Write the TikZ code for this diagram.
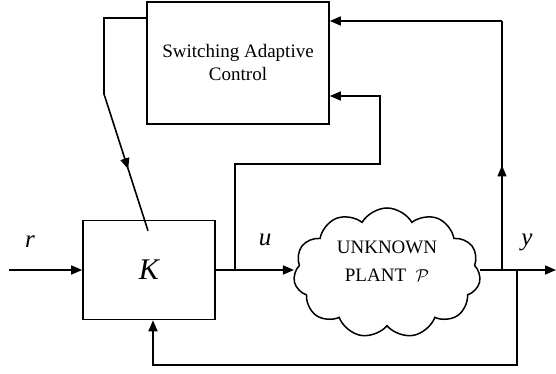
\documentclass[tikz,border=0pt]{standalone}
\usepackage{fontspec}
\setmainfont{Liberation Serif}
\usetikzlibrary{arrows.meta, positioning, shapes.symbols, calc, decorations.markings}
\tikzset{
  block/.style={rectangle, draw, line width=1.6pt, align=center},
  plantcloud/.style={cloud, draw, line width=1.5pt, cloud puffs=11, cloud puff arc=120,
    aspect=1.45, minimum width=187pt, minimum height=130pt, inner sep=0pt},
  wire/.style={line width=1.6pt},
  arrow/.style={wire, -{Triangle[length=11pt, width=9pt]}},
  midarrow/.style={postaction={decorate}, decoration={markings,
    mark=at position #1 with {\arrow{Triangle[length=11pt, width=9pt]}}}},
  sig/.style={font=\fontsize{25}{27}\selectfont\itshape},
}

\begin{document}
\begin{tikzpicture}[x=1pt, y=1pt]
\useasboundingbox (0,0) rectangle (556,374);
% blocks
\node[block, minimum width=182pt, minimum height=122pt, font=\fontsize{19}{23}\selectfont] (sac) at (238,311) {Switching Adaptive\\Control};
\node[block, minimum width=132pt, minimum height=99pt, font=\fontsize{30}{32}\selectfont\itshape] (K) at (149,104) {K};
\node[plantcloud] (plant) at (387,101) {};
\node[font=\fontsize{19}{28}\selectfont, align=center] (plantlbl) at ($(plant.center)+(0,12)$) {UNKNOWN\\PLANT\ \ $\mathcal{P}$};
% branch points
\coordinate (rin) at (9,104);
\coordinate (ubr) at (235,104);
\coordinate (ybr) at (502,104);
\coordinate (ytop) at (502,353);
\coordinate (fbr) at (517,104);
\coordinate (yout) at (556,104);
\coordinate (kbend) at (104,280);
\coordinate (kin) at ($(K.north)+(-1,-11)$);
% signals
\draw[arrow] (rin) -- (K.west);
\draw[arrow] (K.east) -- (plant.west |- K.east);
\draw[arrow] (plant.east |- K.east) -- (yout);
\draw[arrow] (ubr) |- (380,210) |- (sac.east |- 0,278);
\draw[wire, midarrow=0.42] (ybr) -- (ytop);
\draw[arrow] (ytop) -- (sac.east |- ytop);
\draw[arrow] (fbr) |- (153,9) -- (153,0 |- K.south);
\draw[wire] (sac.west |- 0,356) -| (kbend);
\draw[wire, midarrow=0.55] (kbend) -- (kin);
% labels
\node[sig] (rlbl) at (30,132) {r};
\node[sig] (ulbl) at (265,134) {u};
\node[sig] (ylbl) at (527,132) {y};
\end{tikzpicture}
\end{document}
